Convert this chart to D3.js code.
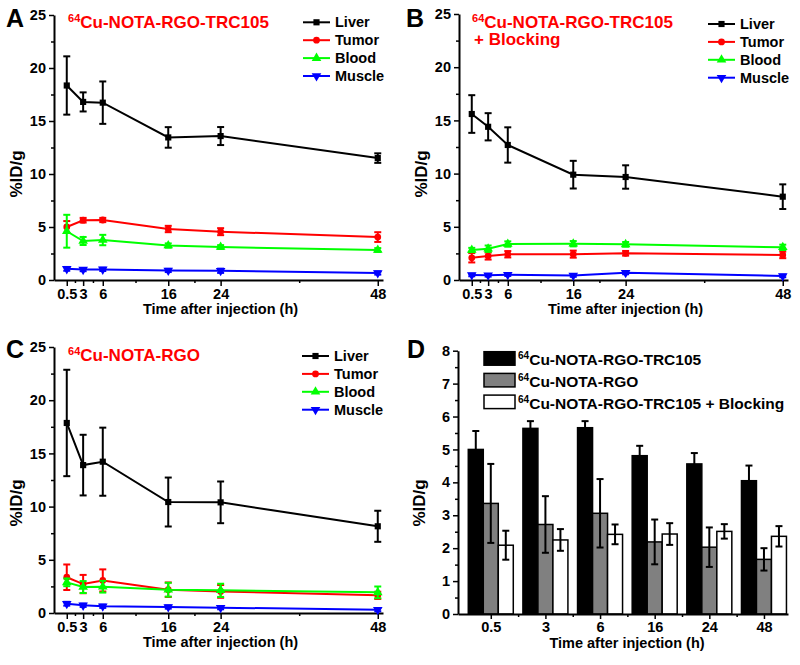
<!DOCTYPE html>
<html>
<head>
<meta charset="utf-8">
<script src="https://cdn.jsdelivr.net/npm/d3@7"></script>
<style>
  body { margin: 0; background: #fff; }
  text { font-family: "Liberation Sans", Arial, sans-serif; font-weight: bold; }
</style>
</head>
<body>
<svg id="chart" width="800" height="665"></svg>
<script>
// time points and axis labels
const times = [0.5, 3, 6, 16, 24, 48];
const timeLabels = ['0.5', '3', '6', '16', '24', '48'];
const minorTimes = [1.75, 4.5, 11, 20, 36];
const organs = ['Liver', 'Tumor', 'Blood', 'Muscle'];

// A: 64Cu-NOTA-RGO-TRC105
const liverA = [18.35, 16.8, 16.73, 13.45, 13.58, 11.5];
const liverAErr = [2.75, 0.9, 2.0, 0.97, 0.85, 0.45];
const tumorA = [5.0, 5.64, 5.66, 4.81, 4.56, 4.05];
const tumorAErr = [0.56, 0.22, 0.2, 0.3, 0.33, 0.46];
const bloodA = [4.6, 3.68, 3.77, 3.25, 3.11, 2.83];
const bloodAErr = [1.55, 0.38, 0.49, 0.2, 0.18, 0.18];
const muscleA = [1.05, 0.98, 1.0, 0.9, 0.87, 0.66];
const muscleAErr = [0.18, 0.15, 0.15, 0.15, 0.2, 0.15];

// B: 64Cu-NOTA-RGO-TRC105 + Blocking
const liverB = [15.6, 14.4, 12.69, 9.9, 9.68, 7.83];
const liverBErr = [1.77, 1.28, 1.66, 1.3, 1.1, 1.16];
const tumorB = [2.09, 2.25, 2.42, 2.43, 2.51, 2.36];
const tumorBErr = [0.44, 0.33, 0.3, 0.33, 0.22, 0.31];
const bloodB = [2.82, 2.94, 3.38, 3.41, 3.35, 3.07];
const bloodBErr = [0.2, 0.3, 0.25, 0.25, 0.22, 0.25];
const muscleB = [0.47, 0.44, 0.5, 0.42, 0.69, 0.38];
const muscleBErr = [0.12, 0.12, 0.12, 0.12, 0.15, 0.12];

// C: 64Cu-NOTA-RGO
const liverC = [17.86, 13.9, 14.22, 10.43, 10.4, 8.15];
const liverCErr = [5.0, 2.85, 3.2, 2.3, 1.96, 1.46];
const tumorC = [3.36, 2.72, 3.06, 2.19, 2.03, 1.66];
const tumorCErr = [1.2, 0.86, 1.04, 0.68, 0.6, 0.34];
const bloodC = [2.88, 2.44, 2.47, 2.19, 2.13, 1.94];
const bloodCErr = [0.36, 0.56, 0.55, 0.65, 0.62, 0.55];
const muscleC = [0.87, 0.72, 0.63, 0.56, 0.5, 0.31];
const muscleCErr = [0.18, 0.15, 0.15, 0.15, 0.15, 0.15];

// D: tumor uptake of the three agents
const barGroups = ['Cu-NOTA-RGO-TRC105', 'Cu-NOTA-RGO', 'Cu-NOTA-RGO-TRC105 + Blocking'];
const barValues = [tumorA, tumorC, tumorB];
const barErrors = [tumorAErr, tumorCErr, tumorBErr];

const organColors = ['#000000', '#ff0000', '#00ff00', '#0000ff'];
const barFills = ['#000000', '#808080', '#ffffff'];

const svg = d3.select('#chart');

function symbolFor(i) {
  const types = [d3.symbolSquare, d3.symbolCircle, d3.symbolTriangle, d3.symbolTriangle];
  const sizes = [38, 36, 40, 40];
  return d3.symbol().type(types[i]).size(sizes[i])();
}

function cleanAxis(g, fontSize) {
  g.attr('font-size', null).attr('font-family', null);
  g.select('.domain').attr('stroke-width', 2);
  g.selectAll('.tick line').attr('stroke-width', 1.5);
  g.selectAll('.tick text').attr('font-size', fontSize).attr('fill', '#000');
}

function superText(sel, sup, main, size) {
  sel.append('tspan').attr('font-size', size * 0.65).attr('dy', -size * 0.38).text(sup);
  sel.append('tspan').attr('font-size', size).attr('dy', size * 0.38).text(main);
}

function linePanel(p) {
  const x = d3.scaleLinear().domain([-1.45, 48.8]).range(p.xr);
  const y = d3.scaleLinear().domain([0, 25]).range(p.yr);
  const g = svg.append('g');

  // minor ticks first
  g.append('g').attr('transform', `translate(0,${p.yr[0]})`)
    .call(d3.axisBottom(x).tickValues(minorTimes).tickSize(3).tickFormat('').tickSizeOuter(0))
    .call(a => { cleanAxis(a, 14); a.select('.domain').remove(); });
  g.append('g').attr('transform', `translate(${p.xr[0]},0)`)
    .call(d3.axisLeft(y).tickValues(d3.range(2.5, 25, 5)).tickSize(3).tickFormat('').tickSizeOuter(0))
    .call(a => { cleanAxis(a, 14); a.select('.domain').remove(); });

  g.append('g').attr('transform', `translate(0,${p.yr[0]})`)
    .call(d3.axisBottom(x).tickValues(times).tickFormat((d, i) => timeLabels[i])
      .tickSize(6).tickPadding(3).tickSizeOuter(0))
    .call(a => cleanAxis(a, 14.5));
  g.append('g').attr('transform', `translate(${p.xr[0]},0)`)
    .call(d3.axisLeft(y).tickValues(d3.range(0, 26, 5)).tickSize(5).tickPadding(3).tickSizeOuter(0))
    .call(a => cleanAxis(a, 14.5));

  // series
  const line = d3.line().x((d, i) => x(times[i])).y(d => y(d));
  p.series.forEach((s, k) => {
    const col = organColors[k];
    g.append('path').datum(s.v).attr('d', line)
      .attr('fill', 'none').attr('stroke', col).attr('stroke-width', 2);
    const eb = g.append('g').attr('stroke', col).attr('stroke-width', 2);
    s.v.forEach((v, i) => {
      const cx = x(times[i]);
      const lo = y(v - s.e[i]), hi = y(v + s.e[i]);
      eb.append('line').attr('x1', cx).attr('x2', cx).attr('y1', lo).attr('y2', hi);
      eb.append('line').attr('x1', cx - 3.5).attr('x2', cx + 3.5).attr('y1', lo).attr('y2', lo);
      eb.append('line').attr('x1', cx - 3.5).attr('x2', cx + 3.5).attr('y1', hi).attr('y2', hi);
    });
    g.selectAll(null).data(s.v).join('path')
      .attr('d', symbolFor(k))
      .attr('transform', (d, i) => `translate(${x(times[i])},${y(d)})` + (k === 3 ? ' rotate(180)' : ''))
      .attr('fill', col);
  });

  // legend
  organs.forEach((name, k) => {
    const ly = p.legend.y + k * 17.9;
    g.append('line').attr('x1', p.legend.x).attr('x2', p.legend.x + 27)
      .attr('y1', ly).attr('y2', ly).attr('stroke', organColors[k]).attr('stroke-width', 2);
    g.append('path').attr('d', symbolFor(k))
      .attr('transform', `translate(${p.legend.x + 13.5},${ly})` + (k === 3 ? ' rotate(180)' : ''))
      .attr('fill', organColors[k]);
    g.append('text').attr('x', p.legend.x + 32).attr('y', ly + 5)
      .attr('font-size', 14.5).text(name);
  });

  // titles
  const t = g.append('text').attr('x', p.title.x).attr('y', p.title.y)
    .attr('fill', '#ff0000').attr('font-size', 17);
  superText(t, '64', p.title.text, 17);
  if (p.title.line2) {
    g.append('text').attr('x', p.title.x + 2).attr('y', p.title.y + 17)
      .attr('fill', '#ff0000').attr('font-size', 17).text(p.title.line2);
  }
  g.append('text').attr('x', p.letter.x).attr('y', p.letter.y).attr('font-size', 25).text(p.letter.t);
  g.append('text').attr('text-anchor', 'middle')
    .attr('x', (x(-1.45) + x(48.8)) / 2 + 2).attr('y', p.yr[0] + 34)
    .attr('font-size', 14.5).text('Time after injection (h)');
  g.append('text').attr('text-anchor', 'middle')
    .attr('transform', `translate(${p.ylab.x},${p.ylab.y}) rotate(-90)`)
    .attr('font-size', 17).text('%ID/g');
}

linePanel({
  xr: [54, 383], yr: [280, 15],
  series: [{ v: liverA, e: liverAErr }, { v: tumorA, e: tumorAErr }, { v: bloodA, e: bloodAErr }, { v: muscleA, e: muscleAErr }],
  legend: { x: 303, y: 22.3 },
  title: { x: 68, y: 28, text: 'Cu-NOTA-RGO-TRC105' },
  letter: { x: 6, y: 27, t: 'A' },
  ylab: { x: 22, y: 174 }
});

linePanel({
  xr: [459, 788], yr: [280, 14],
  series: [{ v: liverB, e: liverBErr }, { v: tumorB, e: tumorBErr }, { v: bloodB, e: bloodBErr }, { v: muscleB, e: muscleBErr }],
  legend: { x: 708, y: 24 },
  title: { x: 472, y: 28, text: 'Cu-NOTA-RGO-TRC105', line2: '+ Blocking' },
  letter: { x: 406, y: 27, t: 'B' },
  ylab: { x: 427, y: 174 }
});

linePanel({
  xr: [54, 383], yr: [613, 347],
  series: [{ v: liverC, e: liverCErr }, { v: tumorC, e: tumorCErr }, { v: bloodC, e: bloodCErr }, { v: muscleC, e: muscleCErr }],
  legend: { x: 302, y: 356 },
  title: { x: 68, y: 361, text: 'Cu-NOTA-RGO' },
  letter: { x: 6, y: 358, t: 'C' },
  ylab: { x: 22, y: 503 }
});

// Panel D: grouped bars
(function () {
  const x = d3.scaleLinear().domain([-0.6, 5.44]).range([458, 788]);
  const x1 = d3.scaleBand().domain([0, 1, 2]).range([-22.5, 22.5]);
  const y = d3.scaleLinear().domain([0, 8]).range([614, 350.7]);
  const g = svg.append('g');
  const idx = d3.range(times.length);

  g.append('g').attr('transform', 'translate(0,614)')
    .call(d3.axisBottom(x).tickValues(d3.range(0.5, 5, 1)).tickSize(3).tickFormat('').tickSizeOuter(0))
    .call(a => { cleanAxis(a, 14); a.select('.domain').remove(); });
  g.append('g').attr('transform', 'translate(458,0)')
    .call(d3.axisLeft(y).tickValues(d3.range(0.5, 8, 1)).tickSize(3).tickFormat('').tickSizeOuter(0))
    .call(a => { cleanAxis(a, 14); a.select('.domain').remove(); });

  barValues.forEach((vals, s) => {
    g.selectAll(null).data(vals).join('rect')
      .attr('x', (d, i) => x(idx[i]) + x1(s))
      .attr('width', x1.bandwidth())
      .attr('y', d => y(d))
      .attr('height', d => y(0) - y(d))
      .attr('fill', barFills[s]).attr('stroke', '#000').attr('stroke-width', 1.5);
    const eb = g.append('g').attr('stroke', '#000').attr('stroke-width', 2);
    vals.forEach((v, i) => {
      const cx = x(idx[i]) + x1(s) + x1.bandwidth() / 2;
      const lo = y(v - barErrors[s][i]), hi = y(v + barErrors[s][i]);
      eb.append('line').attr('x1', cx).attr('x2', cx).attr('y1', lo).attr('y2', hi);
      eb.append('line').attr('x1', cx - 3.5).attr('x2', cx + 3.5).attr('y1', lo).attr('y2', lo);
      eb.append('line').attr('x1', cx - 3.5).attr('x2', cx + 3.5).attr('y1', hi).attr('y2', hi);
    });
  });

  g.append('g').attr('transform', 'translate(0,614)')
    .call(d3.axisBottom(x).tickValues(idx).tickFormat((d, i) => timeLabels[i])
      .tickSize(5).tickPadding(3).tickSizeOuter(0))
    .call(a => cleanAxis(a, 14.5));
  g.append('g').attr('transform', 'translate(458,0)')
    .call(d3.axisLeft(y).tickValues(d3.range(0, 9, 1)).tickSize(5).tickPadding(3).tickSizeOuter(0))
    .call(a => cleanAxis(a, 14.5));

  // legend
  barGroups.forEach((name, s) => {
    const top = 351.7 + s * 21.7;
    g.append('rect').attr('x', 484).attr('y', top).attr('width', 31).attr('height', 13.5)
      .attr('fill', barFills[s]).attr('stroke', '#000').attr('stroke-width', 1.5);
    const t = g.append('text').attr('x', 518).attr('y', top + 13.5).attr('font-size', 15.5);
    superText(t, '64', name, 15.5);
  });

  g.append('text').attr('x', 407).attr('y', 358).attr('font-size', 25).text('D');
  g.append('text').attr('text-anchor', 'middle').attr('x', 627).attr('y', 648)
    .attr('font-size', 14.5).text('Time after injection (h)');
  g.append('text').attr('text-anchor', 'middle')
    .attr('transform', 'translate(425,503) rotate(-90)')
    .attr('font-size', 17).text('%ID/g');
})();
</script>
</body>
</html>
